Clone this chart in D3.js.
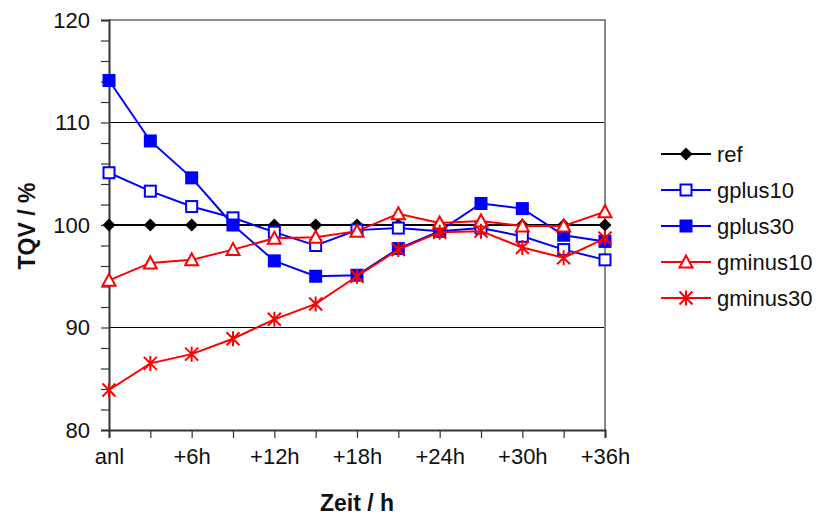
<!DOCTYPE html>
<html>
<head>
<meta charset="utf-8">
<script src="https://cdn.jsdelivr.net/npm/d3@7"></script>
<style>
  html, body { margin: 0; padding: 0; background: #fff; }
  svg { display: block; font-family: Arial, "Liberation Sans", sans-serif; }
</style>
</head>
<body>
<svg id="chart" width="834" height="515"></svg>
<script>
// Forecast lead times (every 3 h) and their axis labels
const steps = ["anl", "+3h", "+6h", "+9h", "+12h", "+15h", "+18h", "+21h", "+24h", "+27h", "+30h", "+33h", "+36h"];
const stepLabels = ["anl", "", "+6h", "", "+12h", "", "+18h", "", "+24h", "", "+30h", "", "+36h"];
const yTicks = [80, 90, 100, 110, 120];

// TQV relative to the reference run, in %
const ref       = [100, 100, 100, 100, 100, 100, 100, 100, 100, 100, 100, 100, 100];
const gplus10   = [105.1, 103.3, 101.8, 100.7, 99.3, 98.0, 99.5, 99.7, 99.4, 99.7, 98.9, 97.6, 96.6];
const gplus30   = [114.1, 108.2, 104.6, 100.0, 96.5, 95.0, 95.1, 97.7, 99.4, 102.1, 101.6, 99.0, 98.4];
const gminus10  = [94.6, 96.3, 96.6, 97.6, 98.7, 98.8, 99.4, 101.1, 100.2, 100.4, 99.9, 99.9, 101.3];
const gminus30  = [83.9, 86.5, 87.4, 88.9, 90.8, 92.3, 95.0, 97.6, 99.3, 99.4, 97.8, 96.8, 98.7];

const series = [
  { name: "ref",      values: ref,      color: "#000000", marker: "diamond" },
  { name: "gplus10",  values: gplus10,  color: "#0000ff", marker: "squareOpen" },
  { name: "gplus30",  values: gplus30,  color: "#0000ff", marker: "squareFilled" },
  { name: "gminus10", values: gminus10, color: "#ff0000", marker: "triangleOpen" },
  { name: "gminus30", values: gminus30, color: "#ff0000", marker: "star" }
];

const svg = d3.select("#chart");
const plot = { left: 109, right: 605, top: 20, bottom: 430 };

const x = d3.scalePoint().domain(steps).range([plot.left, plot.right]);
const y = d3.scaleLinear().domain([80, 120]).range([plot.bottom, plot.top]);

// Horizontal gridlines at major ticks
svg.append("g")
  .selectAll("line")
  .data(yTicks.filter(d => d > 80 && d < 120))
  .join("line")
  .attr("x1", plot.left).attr("x2", plot.right)
  .attr("y1", d => y(d)).attr("y2", d => y(d))
  .attr("stroke", "#000").attr("stroke-width", 1.2);

// Plot frame (top and right edges)
svg.append("path")
  .attr("d", `M${plot.left},${plot.top}H${plot.right}V${plot.bottom}`)
  .attr("fill", "none").attr("stroke", "#8a8a8a").attr("stroke-width", 2);

// Y axis with minor ticks every 2 %
svg.append("g")
  .attr("transform", `translate(${plot.left},0)`)
  .call(d3.axisLeft(y).tickValues(d3.range(80, 121, 2)).tickSize(8).tickFormat(d => yTicks.includes(d) ? d : ""))
  .call(g => g.select(".domain").attr("stroke", "#333").attr("stroke-width", 2))
  .call(g => g.selectAll(".tick line").attr("stroke", "#333").attr("stroke-width", 1.2))
  .call(g => g.selectAll(".tick text").attr("font-size", 22).attr("fill", "#111").attr("x", -19).attr("font-family", "Arial, 'Liberation Sans', sans-serif"));

// X axis
svg.append("g")
  .attr("transform", `translate(0,${plot.bottom})`)
  .call(d3.axisBottom(x).tickSize(8).tickFormat((d, i) => stepLabels[i]))
  .call(g => g.select(".domain").attr("stroke", "#333").attr("stroke-width", 2))
  .call(g => g.selectAll(".tick line").attr("stroke", "#333").attr("stroke-width", 1.2))
  .call(g => g.selectAll(".tick text").attr("font-size", 22).attr("fill", "#111").attr("dy", "1.05em").attr("font-family", "Arial, 'Liberation Sans', sans-serif"));

// Axis titles
svg.append("text")
  .attr("x", (plot.left + plot.right) / 2).attr("y", 511)
  .attr("text-anchor", "middle").attr("font-size", 23).attr("font-weight", "bold").attr("fill", "#111")
  .text("Zeit / h");

svg.append("text")
  .attr("transform", "translate(35,226) rotate(-90)")
  .attr("text-anchor", "middle").attr("font-size", 23).attr("font-weight", "bold").attr("fill", "#111")
  .text("TQV / %");

// Marker drawing helper
function drawMarker(g, type, color) {
  switch (type) {
    case "diamond":
      g.append("path").attr("d", "M0,-6.5L6.5,0L0,6.5L-6.5,0Z").attr("fill", color);
      break;
    case "squareOpen":
      g.append("rect").attr("x", -5.5).attr("y", -5.5).attr("width", 11).attr("height", 11)
        .attr("fill", "#fff").attr("stroke", color).attr("stroke-width", 2);
      break;
    case "squareFilled":
      g.append("rect").attr("x", -6.5).attr("y", -6.5).attr("width", 13).attr("height", 13).attr("fill", color);
      break;
    case "triangleOpen":
      g.append("path").attr("d", "M0,-6.5L6.5,5.5L-6.5,5.5Z")
        .attr("fill", "#fff").attr("stroke", color).attr("stroke-width", 2);
      break;
    case "star":
      // asterisk: vertical stroke plus a diagonal cross
      g.append("path").attr("d", "M0,-7.5V7.5M-6.5,-6.5L6.5,6.5M-6.5,6.5L6.5,-6.5")
        .attr("stroke", color).attr("stroke-width", 2).attr("fill", "none");
      break;
  }
}

const line = d3.line().x((d, i) => x(steps[i])).y(d => y(d));

series.forEach(s => {
  const g = svg.append("g");
  g.append("path").attr("d", line(s.values))
    .attr("fill", "none").attr("stroke", s.color).attr("stroke-width", 2);
  s.values.forEach((v, i) => {
    const m = g.append("g").attr("transform", `translate(${x(steps[i])},${y(v)})`);
    drawMarker(m, s.marker, s.color);
  });
});

// Legend
const legend = svg.append("g");
series.forEach((s, i) => {
  const row = legend.append("g").attr("transform", `translate(0,${154 + i * 36})`);
  row.append("line").attr("x1", 661).attr("x2", 711).attr("y1", 0).attr("y2", 0)
    .attr("stroke", s.color).attr("stroke-width", 2);
  const m = row.append("g").attr("transform", "translate(686,0)");
  drawMarker(m, s.marker, s.color);
  row.append("text").attr("x", 717).attr("y", 0).attr("dy", "0.35em")
    .attr("font-size", 22).attr("fill", "#111").text(s.name);
});
</script>
</body>
</html>
